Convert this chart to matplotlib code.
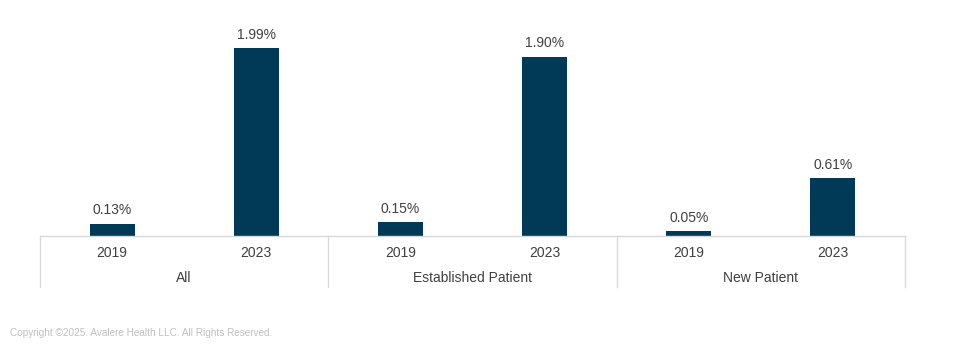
import matplotlib.pyplot as plt
from matplotlib.transforms import blended_transform_factory

plt.rcParams['font.family'] = ['Liberation Sans', 'DejaVu Sans']

groups = ['All', 'Established Patient', 'New Patient']
years = ['2019', '2023']
values = [0.13, 1.99, 0.15, 1.90, 0.05, 0.61]

bar_color = '#003a57'
text_color = '#404040'
line_color = '#d9d9d9'

W, H = 960, 352
fig = plt.figure(figsize=(W / 100, H / 100), dpi=100)
# axes spans x 40..905 px, y baseline at 236 px, top at 10 px
ax = fig.add_axes([40 / W, (H - 236) / H, 865 / W, 226 / H])

xs = list(range(len(values)))
ax.bar(xs, values, width=0.312, color=bar_color)
ax.set_xlim(-0.5, len(values) - 0.5)
ax.set_ylim(0, 226 / 94.47)
ax.axis('off')

for x, v in zip(xs, values):
    ax.annotate(f'{v:.2f}%', (x, v), xytext=(0, 4.5), textcoords='offset points',
                ha='center', va='bottom', fontsize=10, color=text_color)

# category axis drawn by hand (two-level labels)
trans = blended_transform_factory(ax.transData, fig.transFigure)
base = (H - 236) / H
ax.plot([-0.5, len(values) - 0.5], [base, base], transform=trans,
        color=line_color, lw=1, clip_on=False)
for i in range(len(groups) + 1):
    gx = -0.5 + 2 * i
    ax.plot([gx, gx], [base, (H - 287) / H], transform=trans,
            color=line_color, lw=1, clip_on=False)
for x in xs:
    ax.text(x, (H - 253) / H, years[x % 2], transform=trans, ha='center',
            va='center', fontsize=10, color=text_color)
for i, g in enumerate(groups):
    ax.text(2 * i + 0.5, (H - 278) / H, g, transform=trans, ha='center',
            va='center', fontsize=10, color=text_color)

fig.text(10 / W, (H - 333) / H, 'Copyright ©2025. Avalere Health LLC. All Rights Reserved.',
         fontsize=7.2, color='#c0c0c0', ha='left', va='center')

fig.savefig('out.png', dpi=100)
